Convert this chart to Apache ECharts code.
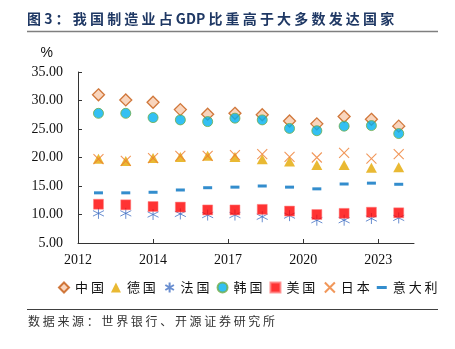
<!DOCTYPE html>
<html>
<head>
<meta charset="utf-8">
<script src="https://cdn.jsdelivr.net/npm/echarts@6/dist/echarts.min.js"></script>
<style>html,body{margin:0;padding:0;background:#fff;}#c{width:455px;height:349px;}</style>
</head>
<body>
<div id="c"></div>
<script>
const titleTokens = ['图', '3', '：', '我', '国', '制', '造', '业', '占', 'GDP', '比', '重', '高', '于', '大', '多', '数', '发', '达', '国', '家'];
const sourceText = '数据来源：世界银行、开源证券研究所';
const years = [2012, 2013, 2014, 2015, 2016, 2017, 2018, 2019, 2020, 2021, 2022, 2023];
const xTickLabels = ['2012', '2014', '2017', '2020', '2023'];
const yTicks = [5, 10, 15, 20, 25, 30, 35];

const china   = [31.0, 30.1, 29.7, 28.4, 27.6, 27.75, 27.5, 26.4, 25.9, 27.2, 26.7, 25.5];
const germany = [19.8, 19.4, 19.9, 20.1, 20.3, 20.1, 19.7, 19.3, 18.7, 18.7, 18.2, 18.3];
const france  = [10.2, 10.2, 10.0, 10.1, 9.9, 9.9, 9.6, 9.8, 9.0, 9.0, 9.3, 9.4];
const korea   = [27.75, 27.75, 27.0, 26.6, 26.3, 26.9, 26.6, 25.1, 24.7, 25.5, 25.6, 24.2];
const usa     = [11.8, 11.7, 11.4, 11.3, 10.8, 10.8, 10.9, 10.6, 10.0, 10.2, 10.4, 10.3];
const japan   = [19.7, 19.4, 19.9, 20.3, 20.3, 20.4, 20.6, 20.1, 20.0, 20.8, 19.8, 20.6];
const italy   = [13.8, 13.8, 13.9, 14.3, 14.7, 14.8, 15.0, 14.8, 14.5, 15.35, 15.5, 15.3];

// axis geometry (Excel-style date axis: min offset and 2.75-year major unit)
const xMin = 2011.25, xMax = 2023.56, xStep = 2.75;
const xTickValues = xTickLabels.map((_, i) => xMin + i * xStep);

const pair = arr => arr.map((v, i) => [years[i], v]);
const spaced = s => s.split('').join(' ');

const ASTERISK = 'path://M5,0L5,10M0.7,2.5L9.3,7.5M0.7,7.5L9.3,2.5';
const XMARK = 'path://M0,0L10,10M0,10L10,0';
const DASH = 'path://M0,0L10,0L10,3L0,3Z';

const series = [
  {name: '中国', data: pair(china), symbol: 'diamond', symbolSize: 12,
   itemStyle: {color: '#F8CBAD', borderColor: '#C55A11', borderWidth: 1.3}},
  {name: '德国', data: pair(germany), symbol: 'triangle', symbolSize: [11, 10],
   itemStyle: {color: '#E3A800'}},
  {name: '法国', data: pair(france), symbol: ASTERISK, symbolSize: 11,
   itemStyle: {color: 'none', borderColor: '#4472C4', borderWidth: 1}},
  {name: '韩国', data: pair(korea), symbol: 'circle', symbolSize: 10,
   itemStyle: {color: '#00B0F0', borderColor: '#70AD47', borderWidth: 1}},
  {name: '美国', data: pair(usa), symbol: 'rect', symbolSize: 10,
   itemStyle: {color: '#FF0000', borderColor: '#FF7F7F', borderWidth: 0.6}},
  {name: '日本', data: pair(japan), symbol: XMARK, symbolSize: 10,
   itemStyle: {color: 'none', borderColor: '#ED7D31', borderWidth: 1.1}},
  {name: '意大利', data: pair(italy), symbol: 'rect', symbolSize: [9, 3],
   itemStyle: {color: '#0070C0'}}
].map(s => Object.assign({type: 'scatter', emphasis: {disabled: true}, animation: false}, s));

const legendIcons = {'意大利': DASH};

const chart = echarts.init(document.getElementById('c'), null, {renderer: 'canvas'});
chart.setOption({
  animation: false,
  title: [
    {text: titleTokens.join(' '), left: 27, top: 12, padding: 0,
     textStyle: {fontFamily: 'Noto Sans CJK SC', fontWeight: 'bold', fontSize: 14, color: '#1F3864'}},
    {text: spaced(sourceText), left: 28, top: 315, padding: 0,
     textStyle: {fontFamily: 'Noto Sans CJK SC', fontWeight: 'normal', fontSize: 12, color: '#333333'}}
  ],
  graphic: [
    {type: 'line', shape: {x1: 27, y1: 31.5, x2: 438, y2: 31.5}, style: {stroke: '#7F7F7F', lineWidth: 1.5}, silent: true},
    {type: 'line', shape: {x1: 27, y1: 309.5, x2: 438, y2: 309.5}, style: {stroke: '#404040', lineWidth: 1.2}, silent: true}
  ],
  grid: {left: 78, right: 41, top: 72, bottom: 106, containLabel: false},
  legend: {
    left: 53, top: 275, itemWidth: 10, itemHeight: 10, itemGap: 7,
    data: series.map(s => legendIcons[s.name] ? {name: s.name, icon: legendIcons[s.name]} : {name: s.name}),
    formatter: name => spaced(name),
    textStyle: {fontFamily: 'Noto Sans CJK SC', fontSize: 13, color: '#111', padding: [0, 0, 0, 1]}
  },
  xAxis: {
    type: 'value', min: xMin, max: xMax,
    splitLine: {show: false},
    axisLine: {show: true, lineStyle: {color: '#333', width: 1}},
    axisTick: {show: true, inside: true, length: 4, customValues: xTickValues, lineStyle: {color: '#333'}},
    axisLabel: {
      customValues: xTickValues, margin: 10,
      formatter: v => xTickLabels[Math.round((v - xMin) / xStep)] || '',
      fontFamily: 'Liberation Serif', fontSize: 14, color: '#111'
    }
  },
  yAxis: {
    type: 'value', min: yTicks[0], max: yTicks[yTicks.length - 1], interval: 5,
    name: '%', nameLocation: 'end', nameGap: 12,
    nameTextStyle: {fontFamily: 'Liberation Sans', fontSize: 14, color: '#111', align: 'right', padding: [0, 25, 0, 0]},
    splitLine: {show: false},
    axisLine: {show: true, lineStyle: {color: '#333', width: 1}},
    axisTick: {show: true, inside: true, length: 4, lineStyle: {color: '#333'}},
    axisLabel: {margin: 15, formatter: v => v.toFixed(2), fontFamily: 'Liberation Serif', fontSize: 14, color: '#111'}
  },
  series: series
});
</script>
</body>
</html>
